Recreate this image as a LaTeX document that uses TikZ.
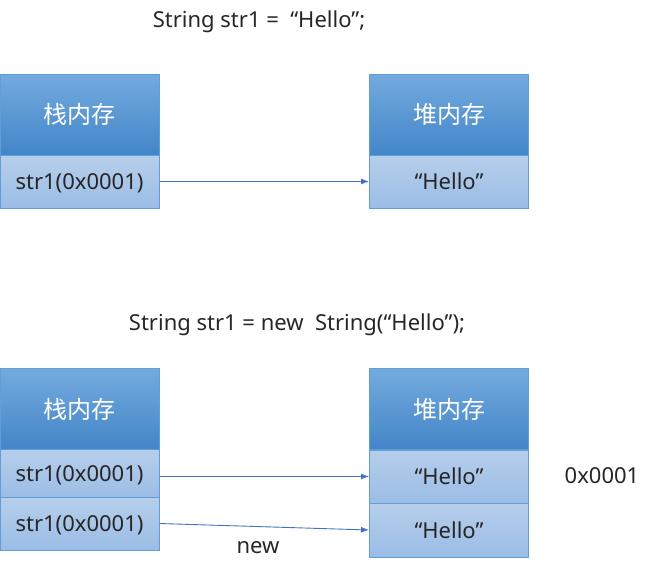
\documentclass[tikz,border=0pt]{standalone}
\usepackage{fontspec}
\usetikzlibrary{arrows.meta}
\setmainfont{Noto Sans}
\newfontfamily\cjk{Noto Sans CJK SC}
\definecolor{headtop}{RGB}{116,170,222}
\definecolor{headbot}{RGB}{66,134,200}
\definecolor{rowtop}{RGB}{182,206,235}
\definecolor{rowbot}{RGB}{155,189,230}
\definecolor{boxline}{RGB}{96,158,215}
\definecolor{arrowblue}{RGB}{68,114,196}

\begin{document}
\begin{tikzpicture}[x=1pt, y=-1pt,
                    head_style/.style={rectangle, draw=boxline, line width=1pt, top color=headtop, bottom color=headbot,
                                       minimum width=159pt, minimum height=81pt, text=white, font=\cjk\fontsize{24}{28}\selectfont},
                    row_style/.style={rectangle, draw=boxline, line width=1pt, top color=rowtop, bottom color=rowbot,
                                      minimum width=159pt, text depth=0pt, text=black!85, font=\fontsize{22}{26}\selectfont},
                    label_style/.style={text=black!85, font=\fontsize{22}{26}\selectfont},
                    edge_style/.style={draw=arrowblue, line width=0.9pt, -{Latex[length=8pt,width=6pt]}}]
                    \useasboundingbox (0,0) rectangle (662,576);
                    % String str1 = "Hello";
                    \node[label_style] (t1) at (259,22) {String str1 =\ \ “Hello”;};
                    \node[head_style] (sh1) at (79.5,114.5) {栈内存};
                    \node[row_style, minimum height=53pt] (s1) at (79.5,181.5) {str1(0x0001)};
                    \node[head_style] (hh1) at (449,114.5) {堆内存};
                    \node[row_style, minimum height=53pt] (h1) at (449,181.5) {“Hello”};
                    \draw[edge_style] (s1.east) -- (h1.west);
                    % String str1 = new String("Hello");
                    \node[label_style] (t2) at (297,325) {String str1 = new\ \ String(“Hello”);};
                    \node[head_style] (sh2) at (79.5,409) {栈内存};
                    \node[row_style, minimum height=48pt] (s2) at (79.5,473.5) {str1(0x0001)};
                    \node[row_style, minimum height=53pt] (s3) at (79.5,523.5) {str1(0x0001)};
                    \node[head_style] (hh2) at (449,409) {堆内存};
                    \node[row_style, minimum height=53pt] (h2) at (449,476.5) {“Hello”};
                    \node[row_style, minimum height=54pt] (h3) at (449,530) {“Hello”};
                    \node[label_style] (addr) at (602,476) {0x0001};
                    \node[label_style] (kw) at (258,548) {new};
                    \draw[edge_style] (s2.east |- h2.west) -- (h2.west);
                    \draw[edge_style] (s3.east) -- (h3.west);
                \end{tikzpicture}
\end{document}
